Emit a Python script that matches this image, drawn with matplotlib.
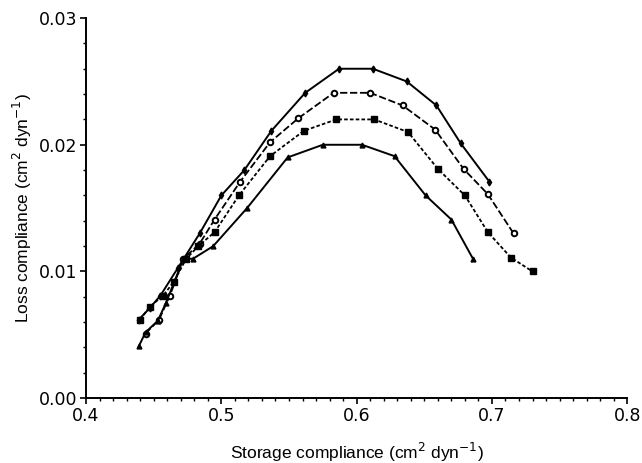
import numpy as np
import matplotlib as mpl
mpl.use("Agg")
import matplotlib.pyplot as plt
from matplotlib.ticker import MultipleLocator, FormatStrFormatter

plt.rcParams['font.family'] = ['Liberation Sans', 'DejaVu Sans']

# storage compliance (x) and loss compliance (y) for the four curves
x_plus = [0.439, 0.447, 0.455, 0.468, 0.484, 0.500, 0.517, 0.537, 0.562, 0.587,
          0.612, 0.637, 0.659, 0.677, 0.698]
y_plus = [0.0062, 0.0071, 0.0081, 0.0103, 0.0130, 0.0160, 0.0180, 0.0211, 0.0241, 0.0260,
          0.0260, 0.0250, 0.0231, 0.0201, 0.0171]

x_circ = [0.444, 0.454, 0.462, 0.472, 0.484, 0.495, 0.514, 0.536, 0.557, 0.583,
          0.610, 0.634, 0.658, 0.679, 0.697, 0.716]
y_circ = [0.0051, 0.0062, 0.0081, 0.0110, 0.0122, 0.0141, 0.0171, 0.0202, 0.0221, 0.0241,
          0.0241, 0.0231, 0.0212, 0.0181, 0.0161, 0.0130]

x_sq = [0.440, 0.447, 0.457, 0.465, 0.474, 0.483, 0.495, 0.513, 0.536, 0.561,
        0.585, 0.613, 0.638, 0.660, 0.680, 0.697, 0.714, 0.730]
y_sq = [0.0062, 0.0072, 0.0081, 0.0092, 0.0110, 0.0120, 0.0131, 0.0160, 0.0191, 0.0211,
        0.0220, 0.0220, 0.0210, 0.0181, 0.0160, 0.0131, 0.0111, 0.0100]

x_tri = [0.439, 0.444, 0.453, 0.459, 0.472, 0.479, 0.494, 0.519, 0.549, 0.575,
         0.604, 0.628, 0.651, 0.670, 0.686]
y_tri = [0.0041, 0.0052, 0.0061, 0.0075, 0.0110, 0.0110, 0.0120, 0.0150, 0.0190, 0.0200,
         0.0200, 0.0191, 0.0160, 0.0141, 0.0110]

fig = plt.figure(figsize=(6.42, 4.63), dpi=100)
ax = fig.add_axes([0.134, 0.140, 0.843, 0.821])

ax.plot(x_plus, y_plus, color='black', lw=1.4, ls='-', marker='d', ms=3.5, mfc='black')
ax.plot(x_circ, y_circ, color='black', lw=1.3, ls=(0, (4, 1.5)), marker='o', ms=4,
        mfc='white', mew=1.4)
ax.plot(x_sq, y_sq, color='black', lw=1.3, ls=(0, (2, 1.2)), marker='s', ms=3.8, mfc='black')
ax.plot(x_tri, y_tri, color='black', lw=1.4, ls='-', marker='^', ms=3.5, mfc='black')

ax.set_xlim(0.4, 0.8)
ax.set_ylim(0.0, 0.03)
ax.xaxis.set_major_locator(MultipleLocator(0.1))
ax.xaxis.set_minor_locator(MultipleLocator(0.01))
ax.yaxis.set_major_locator(MultipleLocator(0.01))
ax.yaxis.set_minor_locator(MultipleLocator(0.002))
ax.xaxis.set_major_formatter(FormatStrFormatter('%.1f'))
ax.yaxis.set_major_formatter(FormatStrFormatter('%.2f'))

for side in ['top', 'right']:
    ax.spines[side].set_visible(False)
for side in ['left', 'bottom']:
    ax.spines[side].set_linewidth(1.4)

ax.tick_params(axis='both', which='major', direction='out', length=4, width=1.2,
               labelsize=12.5, pad=2)
ax.tick_params(axis='both', which='minor', direction='out', length=2.5, width=1)
for lbl in ax.get_xticklabels() + ax.get_yticklabels():
    lbl.set_family(['DejaVu Sans'])

ax.set_xlabel('Storage compliance (cm$^2$ dyn$^{-1}$)', fontsize=12.5, labelpad=12)
ax.set_ylabel('Loss compliance (cm$^2$ dyn$^{-1}$)', fontsize=12.5, labelpad=4)

fig.savefig('out.png', dpi=100)
